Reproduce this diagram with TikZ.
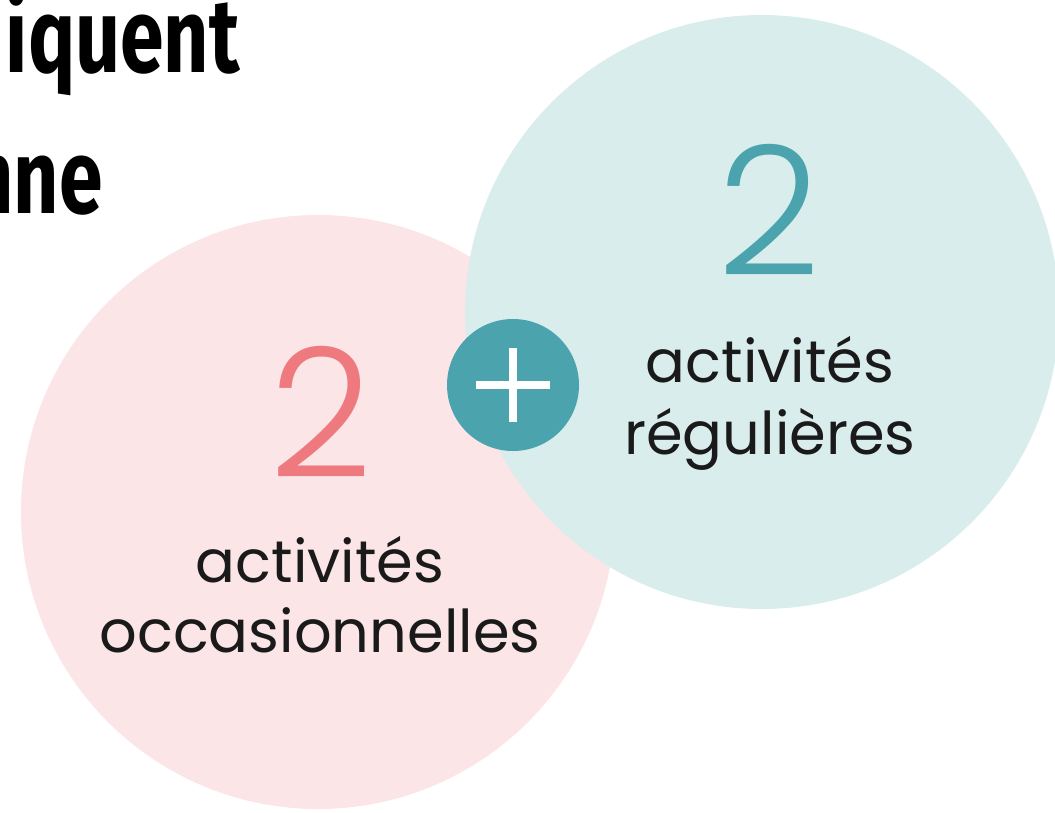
\documentclass[tikz,border=0pt]{standalone}
\usepackage{fontspec}
\setmainfont{Poppins}
\newfontfamily\numfont{Poppins Light}
\newfontfamily\headfont{Fira Sans}[FakeStretch=0.75]
\definecolor{rosefond}{HTML}{FBE5E7}
\definecolor{rosechiffre}{HTML}{EE7A80}
\definecolor{turqfond}{HTML}{D9EDEC}
\definecolor{turq}{HTML}{4AA3AD}
\definecolor{encre}{HTML}{1A1A1A}

\begin{document}
\begin{tikzpicture}[x=1pt,y=-1pt,
bubble/.style={circle,minimum size=594pt,inner sep=0pt},
bignum/.style={font=\numfont\fontsize{180}{180}\selectfont,inner sep=0pt,anchor=base},
caption/.style={font=\fontsize{59}{70}\selectfont,text=encre,inner sep=0pt,anchor=base},
head/.style={font=\headfont\bfseries\fontsize{105}{105}\selectfont,text=black,inner sep=0pt,anchor=base east}]
\useasboundingbox (0,0) rectangle (1055,812);
\clip (0,0) rectangle (1055,812);

% cropped title
\node (titre1) [head] at (240,72) {iquent};
\node (titre2) [head] at (103,213) {nne};

% the two bubbles
\node (occas) [bubble,fill=rosefond] at (318,512) {};
\node (regul) [bubble,fill=turqfond] at (762,312) {};

% occasional
\node (occasnum) [bignum,text=rosechiffre] at (321,477) {2};
\node (occasl1) [caption] at (320,582) {activités};
\node (occasl2) [caption] at (320,652) {occasionnelles};

% regular
\node (regulnum) [bignum,text=turq] at (769,275) {2};
\node (regull1) [caption] at (770,382) {activités};
\node (regull2) [caption] at (770,454) {régulières};

% plus badge
\node (plus) [circle,fill=turq,minimum size=132pt,inner sep=0pt] at (513,385) {};
\draw [white,line width=8pt] ([xshift=-37pt]plus.center) -- ([xshift=37pt]plus.center);
\draw [white,line width=8pt] ([yshift=-37pt]plus.center) -- ([yshift=37pt]plus.center);
\end{tikzpicture}
\end{document}
